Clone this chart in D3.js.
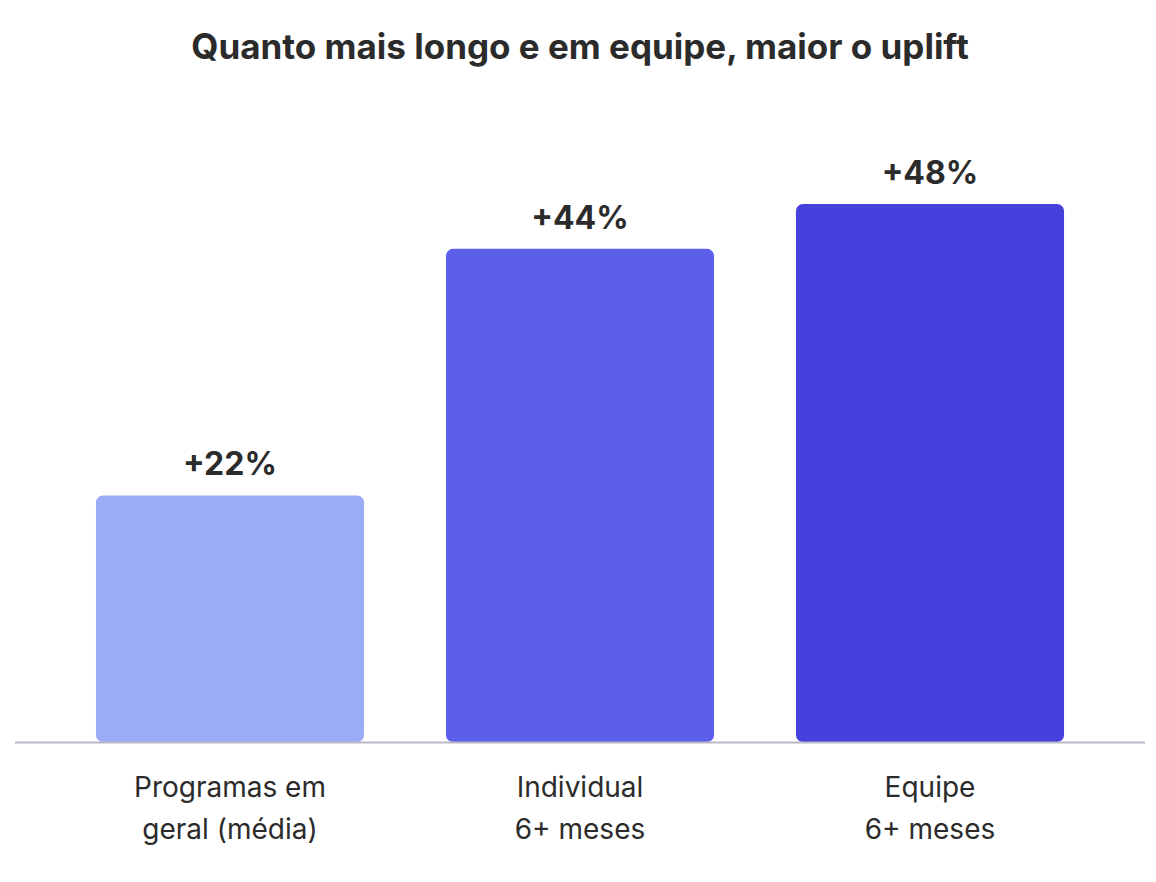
<!DOCTYPE html>
<html><head><meta charset="utf-8">
<script src="https://cdn.jsdelivr.net/npm/d3@7"></script>
<style>body{margin:0;background:#fff}text{font-family:Inter,"Noto Sans",sans-serif}</style>
</head><body>
<svg id="chart" width="1156" height="882"></svg>
<script>
// Chart data
const categories = [["Programas em", "geral (média)"], ["Individual", "6+ meses"], ["Equipe", "6+ meses"]];
const values = [22, 44, 48];
const colors = ["#9aacf7", "#5b5fea", "#4840dc"];

const svg = d3.select("#chart");
const keys = categories.map((d, i) => i);

const x = d3.scaleBand().domain(keys).range([15, 1145]).paddingInner(0.234).paddingOuter(0.2313);
const y = d3.scaleLinear().domain([0, 48]).range([742, 204]);

// Title
svg.append("text").attr("x", 580).attr("y", 59).attr("text-anchor", "middle")
  .attr("font-size", "35px").attr("font-weight", "bold").attr("fill", "#2b2b2b")
  .text("Quanto mais longo e em equipe, maior o uplift");

// Bars
svg.selectAll(".bar").data(values).enter().append("rect")
  .attr("x", (d, i) => x(i)).attr("y", d => y(d))
  .attr("width", x.bandwidth()).attr("height", d => y(0) - y(d))
  .attr("rx", 7).attr("fill", (d, i) => colors[i]);

// Baseline
svg.append("line").attr("x1", 15).attr("x2", 1145).attr("y1", 742.5).attr("y2", 742.5)
  .attr("stroke", "#b8b8c4").attr("stroke-width", 2);

// Value labels
svg.selectAll(".val").data(values).enter().append("text")
  .attr("x", (d, i) => x(i) + x.bandwidth() / 2).attr("y", d => y(d) - 20)
  .attr("text-anchor", "middle").attr("font-size", "32px").attr("font-weight", "bold")
  .attr("fill", "#2b2b2b").text(d => "+" + d + "%");

// Category labels
const cat = svg.selectAll(".cat").data(categories).enter().append("text")
  .attr("text-anchor", "middle").attr("font-size", "28px").attr("fill", "#2b2b2b");
cat.selectAll("tspan").data((d, i) => d.map(t => ({ t, i }))).enter().append("tspan")
  .attr("x", d => x(d.i) + x.bandwidth() / 2).attr("y", (d, j) => 797 + j * 42).text(d => d.t);
</script>
</body></html>
